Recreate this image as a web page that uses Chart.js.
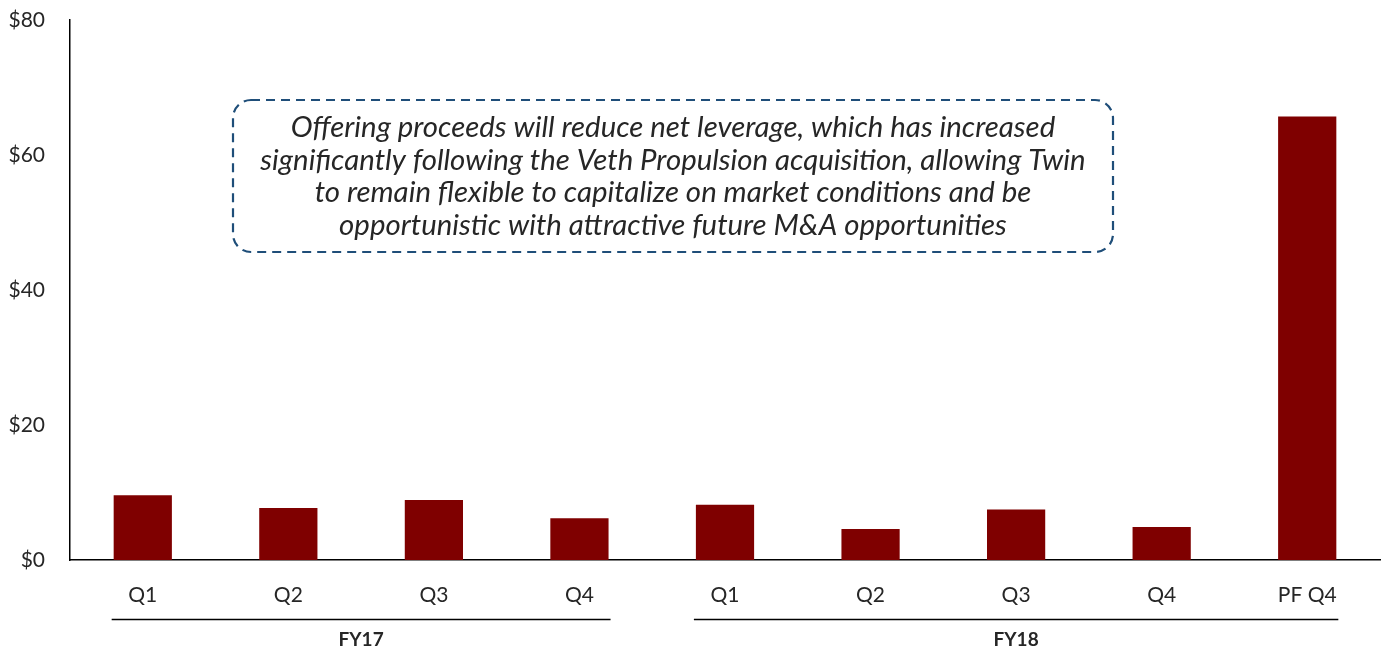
<!DOCTYPE html>
<html>
<head>
<meta charset="utf-8">
<script src="https://cdn.jsdelivr.net/npm/chart.js@4/dist/chart.umd.min.js"></script>
<style>
html,body{margin:0;padding:0;background:#fff;}
#wrap{width:1386px;height:654px;}
</style>
</head>
<body>
<div id="wrap"><canvas id="chart" width="1386" height="654"></canvas></div>
<script>
/* DATA */
const quarters=["Q1","Q2","Q3","Q4","Q1","Q2","Q3","Q4","PF Q4"];
const netDebt=[9.6,7.7,8.9,6.2,8.2,4.6,7.5,4.9,65.7];
const yTicks=[0,20,40,60,80];
const groups=[
{label:"FY17",from:0,to:3},
{label:"FY18",from:4,to:8}
];
const note=[
"Offering proceeds will reduce net leverage, which has increased",
"significantly following the Veth Propulsion acquisition, allowing Twin",
"to remain flexible to capitalize on market conditions and be",
"opportunistic with attractive future M&A opportunities"
];

const FONT="Lato, 'Open Sans', sans-serif";
const TXT="#262626";

/* EXTRAS: group lines + dashed note box */
const extras={
id:"extras",
afterDraw(chart){
const ctx=chart.ctx;
const meta=chart.getDatasetMeta(0);
ctx.save();
groups.forEach(g=>{
const a=meta.data[g.from], b=meta.data[g.to];
const l=a.x-a.width/2-2, r=b.x+b.width/2+2;
ctx.strokeStyle="#000";
ctx.lineWidth=1.3;
ctx.beginPath();
ctx.moveTo(l,619.5);
ctx.lineTo(r,619.5);
ctx.stroke();
ctx.fillStyle=TXT;
ctx.font="bold 19px "+FONT;
ctx.textAlign="center";
ctx.textBaseline="middle";
ctx.fillText(g.label,(l+r)/2,640);
});

// note box
const bx=233,by=100,bw=880,bh=152,rad=18;
ctx.strokeStyle="#1f4e79";
ctx.lineWidth=2.2;
ctx.setLineDash([9,6]);
ctx.beginPath();
ctx.roundRect(bx,by,bw,bh,rad);
ctx.stroke();
ctx.setLineDash([]);
ctx.fillStyle=TXT;
ctx.font="italic 29.4px "+FONT;
ctx.textAlign="center";
ctx.textBaseline="middle";
note.forEach((t,i)=>ctx.fillText(t,bx+bw/2,128+i*32.5));
ctx.restore();
}
};

new Chart(document.getElementById("chart"),{
type:"bar",
data:{
labels:quarters,
datasets:[{
data:netDebt,
backgroundColor:"#7f0000",
barPercentage:0.4,
categoryPercentage:1
}]
},
options:{
responsive:false,
animation:false,
layout:{padding:{top:20,right:6,bottom:0,left:0}},
plugins:{legend:{display:false},tooltip:{enabled:false}},
scales:{
x:{
grid:{display:false,drawTicks:false},
border:{display:true,color:"#000",width:1.5},
ticks:{color:TXT,font:{family:FONT,size:21},padding:23,maxRotation:0},
afterFit:s=>{s.height=94;}
},
y:{
min:0,max:80,
afterBuildTicks:s=>{s.ticks=yTicks.map(v=>({value:v}));},
grid:{display:false,drawTicks:false},
border:{display:true,color:"#000",width:1.5},
ticks:{color:TXT,font:{family:FONT,size:21},padding:25,callback:v=>"$"+v},
afterFit:s=>{s.width=70;s.paddingTop=0;s.paddingBottom=0;}
}
}
},
plugins:[extras]
});
</script>
</body>
</html>
